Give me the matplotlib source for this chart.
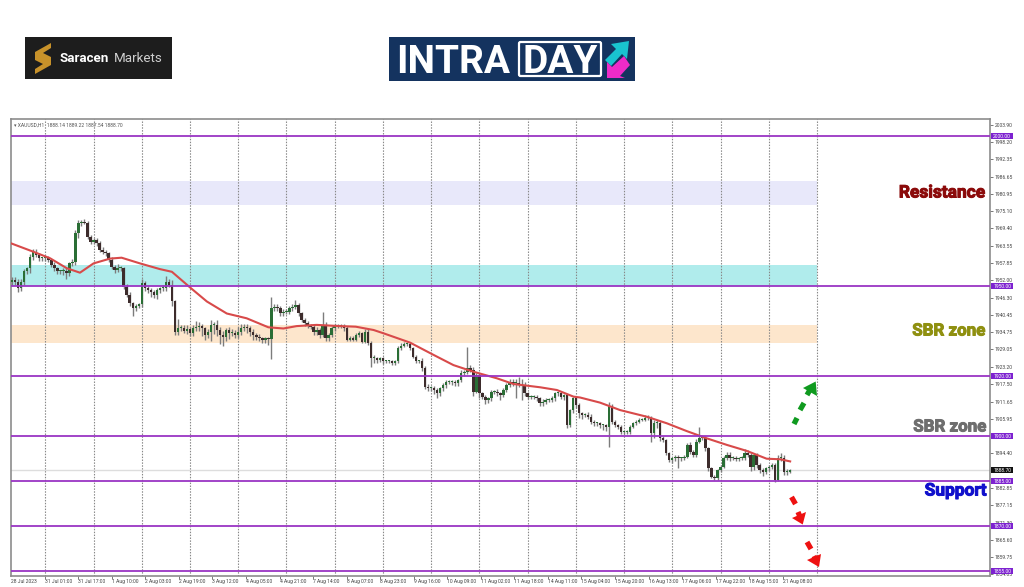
import matplotlib
matplotlib.use('AGG')
import matplotlib.pyplot as plt
import matplotlib.patheffects as pe
from matplotlib.patches import Polygon, Rectangle, FancyBboxPatch

# hourly closes, rows of 10
closes_a = [
    1952.2, 1951.6, 1949.4, 1951.6, 1955.0, 1956.1, 1959.9, 1961.6, 1960.5, 1959.4,
    1959.4, 1959.4, 1958.8, 1957.2, 1956.1, 1955.0, 1955.0, 1955.0, 1954.4, 1957.7,
    1958.3, 1967.7, 1971.0, 1971.6, 1971.3, 1966.6, 1964.9, 1965.5, 1964.4, 1962.2,
    1961.6, 1961.1, 1958.8, 1956.6, 1955.5, 1956.1, 1956.1, 1949.9, 1947.2, 1944.4,
    1942.7, 1943.5, 1944.2, 1951.0, 1949.4, 1948.8, 1948.3, 1947.2, 1948.8, 1949.4,
    1949.4, 1951.6, 1950.5, 1945.0, 1934.9, 1936.0, 1936.0, 1935.3, 1935.7, 1934.6,
    1936.0, 1936.6, 1936.8, 1936.0, 1933.8, 1934.9, 1937.2, 1937.2, 1935.5, 1933.8,
    1933.3, 1935.5, 1934.4, 1934.4, 1933.8, 1934.9, 1936.0, 1936.6, 1936.0, 1934.9,
    1933.8, 1933.3, 1932.7, 1932.2, 1932.7, 1932.4, 1942.7, 1943.3, 1942.7, 1941.1,
    1941.6, 1941.6, 1942.7, 1943.3, 1943.8, 1941.1, 1938.8, 1937.7, 1936.8, 1936.6,
    1934.9, 1935.5, 1933.8, 1937.2, 1932.7, 1933.8, 1936.0, 1936.8, 1936.8, 1936.8,
    1936.0]
closes_b = [
    1932.2, 1932.7, 1932.2, 1933.8, 1934.4, 1931.6, 1934.9, 1931.1, 1926.1, 1926.1,
    1925.5, 1926.1, 1925.0, 1925.0, 1925.0, 1924.4, 1925.0, 1929.4, 1930.2, 1930.8,
    1930.8, 1929.4, 1926.6, 1925.0, 1925.0, 1922.7, 1916.6, 1916.0, 1916.0, 1915.5,
    1914.4, 1916.0, 1917.2, 1918.3, 1918.3, 1918.3, 1917.7, 1918.8, 1921.0, 1921.6,
    1922.7, 1922.2, 1914.9, 1920.5, 1914.4, 1913.3, 1912.2, 1912.7, 1914.9, 1914.9,
    1914.4, 1913.8, 1915.5, 1917.2, 1918.3, 1917.7, 1917.7, 1917.2, 1917.2, 1914.4,
    1913.3, 1913.3, 1913.3, 1912.7, 1911.0, 1911.6, 1912.2, 1912.2, 1912.7, 1914.4,
    1914.4, 1913.3, 1913.8, 1903.8, 1908.8, 1912.7, 1910.5, 1907.7, 1907.2]
closes_c = [
    1907.2, 1906.6, 1904.9, 1904.4, 1904.4, 1903.8, 1903.8, 1903.3, 1910.0, 1904.9,
    1903.8, 1903.3, 1901.6, 1901.6, 1901.6, 1903.3, 1904.4, 1904.9, 1905.5, 1905.5,
    1906.0, 1906.0, 1901.0, 1904.4, 1904.4, 1899.4, 1898.8, 1894.4, 1892.2, 1892.7,
    1893.3, 1892.7, 1892.7, 1893.3, 1897.2, 1894.9, 1893.8, 1898.3, 1899.4, 1899.4,
    1896.0, 1889.4, 1886.6, 1886.0, 1888.8, 1889.9, 1892.7, 1893.8, 1892.7, 1892.7,
    1892.4, 1892.7, 1892.7, 1894.4, 1893.8, 1889.9, 1893.8, 1890.5, 1888.8, 1888.3,
    1889.4, 1889.9, 1890.5, 1885.5, 1892.7, 1892.7, 1888.3, 1888.3, 1888.7]

# wick lengths above / below the candle body
wick_up = [
    .8, 1, 1, 1, .8, .5, 1, 1, .8, .8,
    .5, .8, .8, .5, .8, .5, .5, 1, 1.5, .5,
    1, 1, 1, .5, .8, .6, .5, .8, .5, .8,
    .8, .5, .5, 1, .6, 1.5, .8, .5, 1, .8,
    .5, .8, .3, 1.5, .8, .8, .8, .5, .8, .5,
    1, 2, .8, 1.5, .5, 3, 1, 1, 1.5, .8,
    1, 2, 1.5, .8, .5, .8, 1.5, 1, 1.5, 1,
    1.5, .8, 1, 1.5, 1, 1.5, 1.5, 1, .8, .8,
    .8, .8, .8, .5, .5, .5, 3.9, 1, 1, .8,
    .8, .8, .8, .8, 1.7, .8, .5, .8, .8, .8,
    .8, 1, .5, 4.4, .8, .8, .8, .8, .8, .8,
    .8,
    .8, .8, .8, .8, .8, .5, .8, .8, .8, 1,
    .5, .5, .5, .5, .5, .5, .5, .8, .8, .8,
    .8, .8, .5, .5, .5, 1, .8, .8, .8, .8,
    .5, .5, .5, .5, .5, .5, .5, .5, 1, .5,
    7, 1, 1, .8, .5, .5, .5, .5, .5, .5,
    .8, .5, .5, .5, .8, 1, 1.5, 2, 2, 1,
    .5, .5, .5, .5, .5, .8, .5, .5, .8, .5,
    .5, .5, .5, .5, .5, .5, .5, .5, .5,
    .5, .8, .8, .5, .5, .5, .5, .5, 1.6, .8,
    .5, .5, .5, .5, .5, .5, .5, .5, .5, .5,
    1, 1, .8, 1, 1, .8, .8, .5, .5, .5,
    .5, .5, .5, .5, .5, 1, .5, 1, 3.9, .8,
    .8, .5, .5, .5, .5, .5, .8, 1, 1, .8,
    .8, .5, .8, 1.5, 1, .8, .8, .8, .8, .8,
    .5, .5, .5, .5, 1, 1.8, 1, .8, .4]
wick_dn = [
    1, 1.2, 1.2, 1, 1, 1, 1.5, 1, .8, .8,
    1, .8, .8, .8, 1, 1, 1, 1.2, 1.8, .8,
    1, 1, 1.5, .8, .5, .8, .8, .8, .8, .8,
    .8, .8, .8, .8, 1, .8, .8, .8, .8, .8,
    2.5, 1, .8, 1, .8, 1, 1.8, 1, 1.5, 1,
    .8, 1, .8, 1.5, 1, 1, 1, .8, 1, 1,
    1, 1, 1.5, 2.5, 1.5, 1, 3, 3, 2, 3,
    3, 1.5, 2, 1, 1, 1, 1, 1, 1.5, 1.5,
    1.5, 1, 1, 1, 1, 2, 6.7, 1, 1, 1,
    .8, .8, .8, .8, .8, .8, .8, .8, .8, .8,
    1, 1, 1, .8, 1, 1, .8, .8, .8, .8,
    .8,
    .5, .5, .5, .5, .5, .5, .5, .5, 3, 1.5,
    1, .8, .8, .5, .5, .5, .5, .5, .5, .5,
    .5, .5, .5, .5, .5, .8, .8, .8, .8, 1.5,
    1.5, 1, 1, 1, .8, 1, 1, .8, .8, .8,
    .8, .8, 1.5, .5, 1.5, .8, 1.5, 1, .8, .8,
    1, 1.5, .8, .8, .8, .8, 5, .8, 5, .8,
    .8, .8, .8, .8, .8, .8, .8, .8, .8, .8,
    1, .8, 1, 1.1, .8, 1, 1, 1.5, 1.5,
    .8, .8, .8, .8, .8, 1, 1.5, 1.5, 6.9, .8,
    .8, .8, .8, .8, .8, .8, .5, .5, .5, .5,
    .5, .5, 3, 1.5, 1.5, 1, .8, .5, .8, 1,
    .8, 3.3, .8, .5, .5, .8, .5, .5, .5, .5,
    1, .8, .5, .5, .5, .5, .5, .5, 1, .5,
    .5, .5, .5, .5, .5, 1.5, 1, 1, 1, 1.5,
    .8, .8, .8, .6, .5, .8, 1, 1, .6]

# moving average line, read at bar numbers
ma_bars = [0.6, 8, 13.6, 19.1, 23.5, 28, 33.5, 37.3, 43.4, 50, 54, 60, 65.6, 72.2, 78.8, 86, 91,
           95.4, 102, 109.8, 115, 120.9, 124.2, 133, 140.8, 147.4, 154, 161.8, 167.3, 176.2,
           181.7, 187.2, 189.4, 196, 202.7, 211.5, 218.2, 224.8, 231.4, 238.1, 244.7, 251.3,
           255.8, 259.1]
ma_vals = [1964.4, 1961.6, 1959.4, 1956.1, 1954.6, 1957.7, 1959.3, 1959.6, 1957.7, 1955.8, 1954.9,
           1949.7, 1945.0, 1941.0, 1939.4, 1936.4, 1936.0, 1936.8, 1937.2, 1936.8, 1936.6, 1935.5,
           1934.4, 1931.3, 1927.2, 1923.8, 1921.6, 1919.4, 1917.5, 1916.4, 1915.5, 1913.3, 1913.0,
           1911.3, 1908.8, 1906.6, 1904.4, 1901.8, 1899.4, 1897.2, 1895.2, 1892.6, 1892.4, 1891.7]

levels = [2000, 1950, 1920, 1900, 1885, 1870, 1855]
price_ticks = [2003.90, 1998.20, 1992.35, 1986.65, 1980.95, 1975.10, 1969.40, 1963.55, 1957.85,
               1952.00, 1946.30, 1940.45, 1934.75, 1929.05, 1923.20, 1917.50, 1911.65, 1905.95,
               1894.40, 1882.85, 1877.15, 1871.30, 1865.60, 1859.75, 1854.05]
time_labels = ['31 Jul 01:00', '31 Jul 17:00', '1 Aug 10:00', '2 Aug 03:00', '2 Aug 19:00',
               '3 Aug 12:00', '4 Aug 05:00', '4 Aug 21:00', '7 Aug 14:00', '8 Aug 07:00',
               '8 Aug 23:00', '9 Aug 16:00', '10 Aug 09:00', '11 Aug 02:00', '11 Aug 18:00',
               '14 Aug 11:00', '15 Aug 04:00', '15 Aug 20:00', '16 Aug 13:00', '17 Aug 06:00',
               '17 Aug 22:00', '18 Aug 15:00', '21 Aug 08:00']

plt.rcParams['font.family'] = ['Roboto', 'DejaVu Sans']
fig = plt.figure(figsize=(10.24, 5.87), dpi=100)
ax = fig.add_axes([11 / 1024, 11 / 587, 979 / 1024, 457 / 587])
ax.set_xlim(0.62, 325.4)
ax.set_ylim(1853.5, 2005.83)

# zones
ax.axhspan(1977.2, 1985.2, xmax=(268 - 0.62) / 324.78, color='#e8e8fa', lw=0, zorder=1)
ax.axhspan(1950.3, 1957.2, xmax=(268 - 0.62) / 324.78, color='#b0ecec', lw=0, zorder=1)
ax.axhspan(1931.0, 1937.2, xmax=(268 - 0.62) / 324.78, color='#fde6cc', lw=0, zorder=1)

# vertical grid, every 16 bars
for g in range(12, 269, 16):
    ax.axvline(g, color='#888888', lw=0.8, ls=(0, (1.3, 1.3)), zorder=2)

# candles
closes = closes_a + closes_b + closes_c
prev = 1951.5
for i, c in enumerate(closes):
    top = max(prev, c)
    bot = min(prev, c)
    ax.vlines(i + 1, bot - wick_dn[i], top + wick_up[i], color='#7c7c7c', lw=1.0, zorder=3)
    col = '#2a6e35' if c >= prev else '#3d2c2c'
    ax.bar(i + 1, max(top - bot, 0.35), bottom=bot, width=0.8, color=col, lw=0, zorder=4)
    prev = c

ax.plot(ma_bars, ma_vals, color='#d84a4a', lw=1.5, solid_joinstyle='round', zorder=5)

ax.axhline(1888.7, color='#dddddd', lw=1, zorder=2)
for lv in levels:
    ax.axhline(lv, color='#9a35c4', lw=1.3, zorder=6)

# axes look
for s in ax.spines.values():
    s.set_color('#8c8c8c')
    s.set_linewidth(1.2)
ax.yaxis.tick_right()
ax.set_yticks(price_ticks)
ax.set_yticklabels(['%.2f' % p for p in price_ticks])
ax.tick_params(axis='y', length=2, width=0.5, pad=1.5, labelsize=3.6, colors='#444444')
tick_pos = [11.8 + 11.13 * k for k in range(len(time_labels))]
ax.set_xticks(tick_pos)
ax.set_xticklabels(time_labels, ha='left')
ax.tick_params(axis='x', length=2, width=0.5, pad=0.5, labelsize=3.6, colors='#444444')
ax.text(0.62, -0.0075, '28 Jul 2023', transform=ax.get_xaxis_transform(), fontsize=3.6,
        color='#444444', va='top', ha='left')

# price tags on the scale
tag_tr = ax.get_yaxis_transform()
for lv, lab, bg in [(v, '%.2f' % v, '#7d22d0') for v in levels] + [(1888.7, '1888.70', '#111111')]:
    ax.add_patch(Rectangle((1.0012, lv - 1), 0.0225, 2, transform=tag_tr, color=bg, lw=0, zorder=8,
                           clip_on=False))
    ax.text(1.0125, lv, lab, transform=tag_tr, fontsize=3.6, color='white', va='center',
            ha='center', zorder=9, clip_on=False)

ax.text(0.003, 0.993, '\u25be XAUUSD,H1  1888.14 1889.22 1887.54 1888.70', transform=ax.transAxes,
        fontsize=3.6, color='#555555', va='top', ha='left', zorder=7)

# overlay in pixel coordinates for logos, labels and arrows
ov = fig.add_axes([0, 0, 1, 1], zorder=10)
ov.set_xlim(0, 1024)
ov.set_ylim(587, 0)
ov.axis('off')
ov.patch.set_alpha(0)


def heavy(x, y, s, col, size):
    t = ov.text(x, y, s, color=col, fontsize=size, fontweight='bold', ha='right', va='center')
    t.set_path_effects([pe.withStroke(linewidth=0.7, foreground=col)])


heavy(985, 193, 'Resistance', '#8b0a0a', 12.5)
heavy(985, 331, 'SBR zone', '#8f9010', 12.2)
heavy(986, 427, 'SBR zone', '#6e6e6e', 12.2)
heavy(987, 491, 'Support', '#1010cc', 12.5)


def dash_arrow(dashes, shaft, head, col):
    for d in dashes:
        ov.plot([d[0], d[2]], [d[1], d[3]], color=col, lw=3.8, solid_capstyle='butt')
    ov.plot([shaft[0], shaft[2]], [shaft[1], shaft[3]], color=col, lw=3.8, solid_capstyle='butt')
    ov.add_patch(Polygon(head, closed=True, color=col, lw=0))


dash_arrow([(794, 424, 797, 418), (800, 410, 804, 403)], (807, 395, 811, 388),
           [(815.7, 381.5), (803, 388), (817, 396)], '#0f9a1f')
dash_arrow([(791.5, 497, 795.5, 504)], (798, 512, 801, 519),
           [(802.7, 524.5), (792, 518), (806, 512)], '#ee1111')
dash_arrow([(807, 542, 811, 549)], (814, 556, 817, 562),
           [(819, 567), (807, 560), (821, 554)], '#ee1111')

# Saracen logo
ov.add_patch(Rectangle((25, 37), 147, 42, color='#1d1d1d', lw=0))
ov.add_patch(Polygon([(51, 43), (35, 52), (35, 60), (43, 64), (35, 69), (35, 74), (51, 65), (51, 57),
                      (43, 53), (51, 48)], closed=True, color='#c8922a', lw=0))
ov.text(60, 58, 'Saracen', color='white', fontsize=9.6, fontweight='bold', ha='left', va='center')
ov.text(114, 58, 'Markets', color='#cfcfcf', fontsize=9.6, ha='left', va='center')

# Intraday logo
ov.add_patch(Rectangle((389, 37), 246, 44, color='#14335f', lw=0))
ov.text(396, 73, 'INTRA', color='white', fontsize=28, fontweight='bold', ha='left', va='baseline')
ov.add_patch(FancyBboxPatch((519, 42), 82, 34, boxstyle='round,pad=0,rounding_size=1.5', fc='#14335f',
                            ec='white', lw=1.6))
ov.text(560, 73, 'DAY', color='white', fontsize=28, fontweight='bold', ha='center', va='baseline')
ov.add_patch(Polygon([(605, 60), (616, 49), (611, 44), (629, 41), (627, 59), (622, 54), (611, 66)],
                     closed=True, color='#19c3cf', lw=0))
ov.add_patch(Polygon([(630, 65), (620, 76), (625, 78), (607, 78), (607, 62), (612, 67), (624, 56)],
                     closed=True, color='#ee2bc8', lw=0))

fig.savefig('out.png', dpi=100)
